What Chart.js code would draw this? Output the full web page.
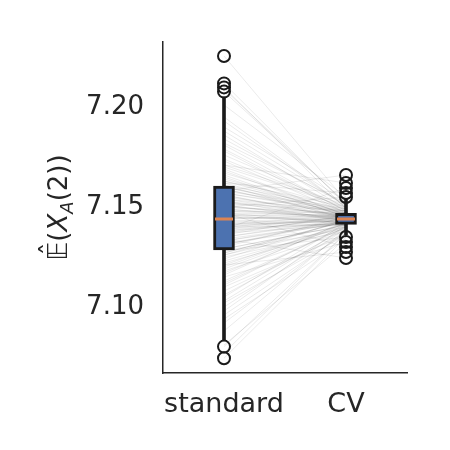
<!DOCTYPE html>
<html>
<head>
<meta charset="utf-8">
<title>Standard vs CV estimator</title>
<script src="https://cdn.jsdelivr.net/npm/chart.js@4.4.1/dist/chart.umd.min.js"></script>
<style>
    html, body { margin: 0; padding: 0; background: #ffffff; }
    #estChart { display: block; }
</style>
</head>
<body>
<canvas id="estChart" width="450" height="450"></canvas>
<script>
// Categories on the x axis
var categories = ['standard', 'CV'];

// Box statistics per category
var q1Vals = [7.1285, 7.1413];
var medianVals = [7.1440, 7.1440];
var q3Vals = [7.1605, 7.1468];
var whiskerLow = [7.0835, 7.1360];
var whiskerHigh = [7.2050, 7.1540];

// Outliers per category
var standardFliers = [7.2255, 7.2118, 7.2098, 7.2077, 7.0802, 7.0744];
var cvFliers = [7.1660, 7.1620, 7.1595, 7.1570, 7.1550, 7.1350, 7.1325, 7.1300, 7.1275, 7.1245];

// Paired estimates (one thin line per replicate: standard -> CV)
var pairStandard = [
    7.077, 7.081, 7.088, 7.094, 7.098, 7.102, 7.105, 7.108, 7.111, 7.113,
    7.116, 7.118, 7.120, 7.122, 7.124, 7.126, 7.127, 7.129, 7.130, 7.132,
    7.133, 7.134, 7.136, 7.137, 7.138, 7.139, 7.140, 7.141, 7.142, 7.143,
    7.144, 7.145, 7.146, 7.147, 7.148, 7.149, 7.150, 7.151, 7.152, 7.154,
    7.155, 7.156, 7.158, 7.159, 7.160, 7.162, 7.163, 7.165, 7.167, 7.169,
    7.171, 7.173, 7.176, 7.179, 7.182, 7.186, 7.190, 7.195, 7.201, 7.209,
    7.128, 7.135, 7.143, 7.146, 7.153, 7.157, 7.161, 7.131, 7.125, 7.140,
    7.148, 7.139, 7.119, 7.166, 7.170, 7.110, 7.178, 7.100, 7.184, 7.092,
    7.2255, 7.2118, 7.2098, 7.2077, 7.0802, 7.0744,
    7.158, 7.171, 7.139, 7.162, 7.150, 7.128, 7.115, 7.147, 7.121, 7.134,
    7.121, 7.123, 7.126, 7.129, 7.131, 7.133, 7.135, 7.137, 7.138, 7.140,
    7.141, 7.142, 7.144, 7.145, 7.146, 7.147, 7.149, 7.150, 7.151, 7.153,
    7.154, 7.156, 7.157, 7.159, 7.161, 7.163, 7.164, 7.168, 7.112, 7.106,
    7.103, 7.096, 7.174, 7.181, 7.188, 7.193, 7.117, 7.127, 7.152, 7.160
];
var pairCV = [
    7.137, 7.132, 7.139, 7.134, 7.141, 7.136, 7.142, 7.137, 7.141, 7.140,
    7.143, 7.138, 7.142, 7.139, 7.144, 7.140, 7.143, 7.141, 7.145, 7.140,
    7.143, 7.142, 7.146, 7.141, 7.144, 7.142, 7.145, 7.143, 7.141, 7.144,
    7.146, 7.143, 7.145, 7.142, 7.147, 7.144, 7.146, 7.143, 7.148, 7.145,
    7.147, 7.144, 7.149, 7.145, 7.148, 7.146, 7.150, 7.145, 7.149, 7.146,
    7.151, 7.147, 7.150, 7.148, 7.152, 7.149, 7.153, 7.150, 7.155, 7.152,
    7.139, 7.144, 7.142, 7.146, 7.143, 7.148, 7.144, 7.143, 7.138, 7.141,
    7.145, 7.145, 7.141, 7.145, 7.150, 7.136, 7.147, 7.139, 7.151, 7.138,
    7.153, 7.151, 7.149, 7.152, 7.137, 7.135,
    7.166, 7.162, 7.1595, 7.157, 7.155, 7.135, 7.1325, 7.130, 7.1275, 7.1245,
    7.142, 7.140, 7.143, 7.141, 7.144, 7.142, 7.143, 7.145, 7.142, 7.144,
    7.146, 7.143, 7.145, 7.144, 7.142, 7.146, 7.145, 7.147, 7.144, 7.146,
    7.148, 7.145, 7.147, 7.146, 7.149, 7.147, 7.148, 7.146, 7.140, 7.139,
    7.140, 7.137, 7.149, 7.148, 7.151, 7.150, 7.142, 7.143, 7.146, 7.147
];

// Y axis range and tick labels
var yMin = 7.067;
var yMax = 7.2325;
var yTicks = [7.10, 7.15, 7.20];

var TEXT_COLOR = '#262626';
var FONT = "'DejaVu Sans', sans-serif";

/**
 * Draws the rotated y axis label E-hat(X_A(2)) with a real subscript
 */
var yTitlePlugin = {
    id: 'yTitle',
    afterDraw: function(chart) {
        var ctx = chart.ctx;
        var area = chart.chartArea;
        var cy = (area.top + area.bottom) / 2;
        var parts = [
            { t: '\uD835\uDD3C', font: 'italic 26px ' + FONT, dy: 0 },
            { t: '(', font: '26px ' + FONT, dy: 0 },
            { t: 'X', font: 'italic 26px ' + FONT, dy: 0 },
            { t: 'A', font: 'italic 18px ' + FONT, dy: 6 },
            { t: '(2))', font: '26px ' + FONT, dy: 0 }
        ];
        ctx.save();
        var total = 0;
        parts.forEach(function(p) {
            ctx.font = p.font;
            p.w = ctx.measureText(p.t).width;
            total += p.w;
        });
        ctx.translate(67, cy);
        ctx.rotate(-Math.PI / 2);
        ctx.fillStyle = TEXT_COLOR;
        ctx.textBaseline = 'alphabetic';
        ctx.textAlign = 'left';
        var x = -total / 2;
        parts.forEach(function(p, i) {
            ctx.font = p.font;
            ctx.fillText(p.t, x, p.dy);
            if (i === 0) {
                // hat over the E
                ctx.font = '26px ' + FONT;
                ctx.textAlign = 'center';
                ctx.fillText('\u02C6', x + p.w / 2 + 2, -7);
                ctx.textAlign = 'left';
            }
            x += p.w;
        });
        ctx.restore();
    }
};

function initEstimateChart() {
    var canvas = document.getElementById('estChart');
    var datasets = [];

    // Fliers (open circles)
    var flierData = [];
    standardFliers.forEach(function(v) { flierData.push({ x: categories[0], y: v }); });
    cvFliers.forEach(function(v) { flierData.push({ x: categories[1], y: v }); });
    datasets.push({
        type: 'line',
        data: flierData,
        showLine: false,
        pointRadius: 6,
        pointBorderWidth: 2,
        pointBorderColor: '#1a1a1a',
        pointBackgroundColor: 'rgba(0,0,0,0)',
        order: 0
    });

    // Median marks
    datasets.push({
        type: 'line',
        data: medianVals,
        showLine: false,
        pointStyle: 'line',
        pointRadius: 9,
        pointBorderWidth: 3,
        pointBorderColor: '#DD8452',
        order: 1
    });

    // Boxes (Q1..Q3)
    datasets.push({
        type: 'bar',
        data: q1Vals.map(function(v, i) { return [v, q3Vals[i]]; }),
        backgroundColor: '#4C72B0',
        borderColor: '#1a1a1a',
        borderWidth: 3,
        borderSkipped: false,
        barThickness: 21,
        grouped: false,
        order: 2
    });

    // Whiskers
    datasets.push({
        type: 'bar',
        data: whiskerLow.map(function(v, i) { return [v, whiskerHigh[i]]; }),
        backgroundColor: '#1a1a1a',
        borderWidth: 0,
        barThickness: 3,
        grouped: false,
        order: 3
    });

    // Paired replicate lines, drawn underneath everything
    pairStandard.forEach(function(s, i) {
        datasets.push({
            type: 'line',
            data: [s, pairCV[i]],
            borderColor: 'rgba(0,0,0,0.12)',
            borderWidth: 0.7,
            pointRadius: 0,
            fill: false,
            order: 10
        });
    });

    new Chart(canvas.getContext('2d'), {
        data: {
            labels: categories,
            datasets: datasets
        },
        options: {
            responsive: false,
            animation: false,
            layout: { padding: { top: 42, right: 43, left: 0, bottom: 0 } },
            plugins: {
                legend: { display: false },
                tooltip: { enabled: false }
            },
            scales: {
                x: {
                    type: 'category',
                    offset: true,
                    grid: { display: false, drawTicks: false },
                    border: { display: true, color: TEXT_COLOR, width: 1.5 },
                    ticks: {
                        color: TEXT_COLOR,
                        font: { size: 27, family: FONT },
                        padding: 16,
                        maxRotation: 0,
                        minRotation: 0,
                        autoSkip: false
                    },
                    afterFit: function(axis) { axis.height = 77; }
                },
                y: {
                    type: 'linear',
                    min: yMin,
                    max: yMax,
                    grid: { display: false, drawTicks: false },
                    border: { display: true, color: TEXT_COLOR, width: 1.5 },
                    ticks: {
                        color: TEXT_COLOR,
                        font: { size: 26, family: FONT },
                        padding: 19,
                        callback: function(v) { return Number(v).toFixed(2); }
                    },
                    afterBuildTicks: function(axis) {
                        axis.ticks = yTicks.map(function(v) { return { value: v }; });
                    },
                    afterFit: function(axis) { axis.width = 163; }
                }
            }
        },
        plugins: [yTitlePlugin]
    });
}

initEstimateChart();
</script>
</body>
</html>
